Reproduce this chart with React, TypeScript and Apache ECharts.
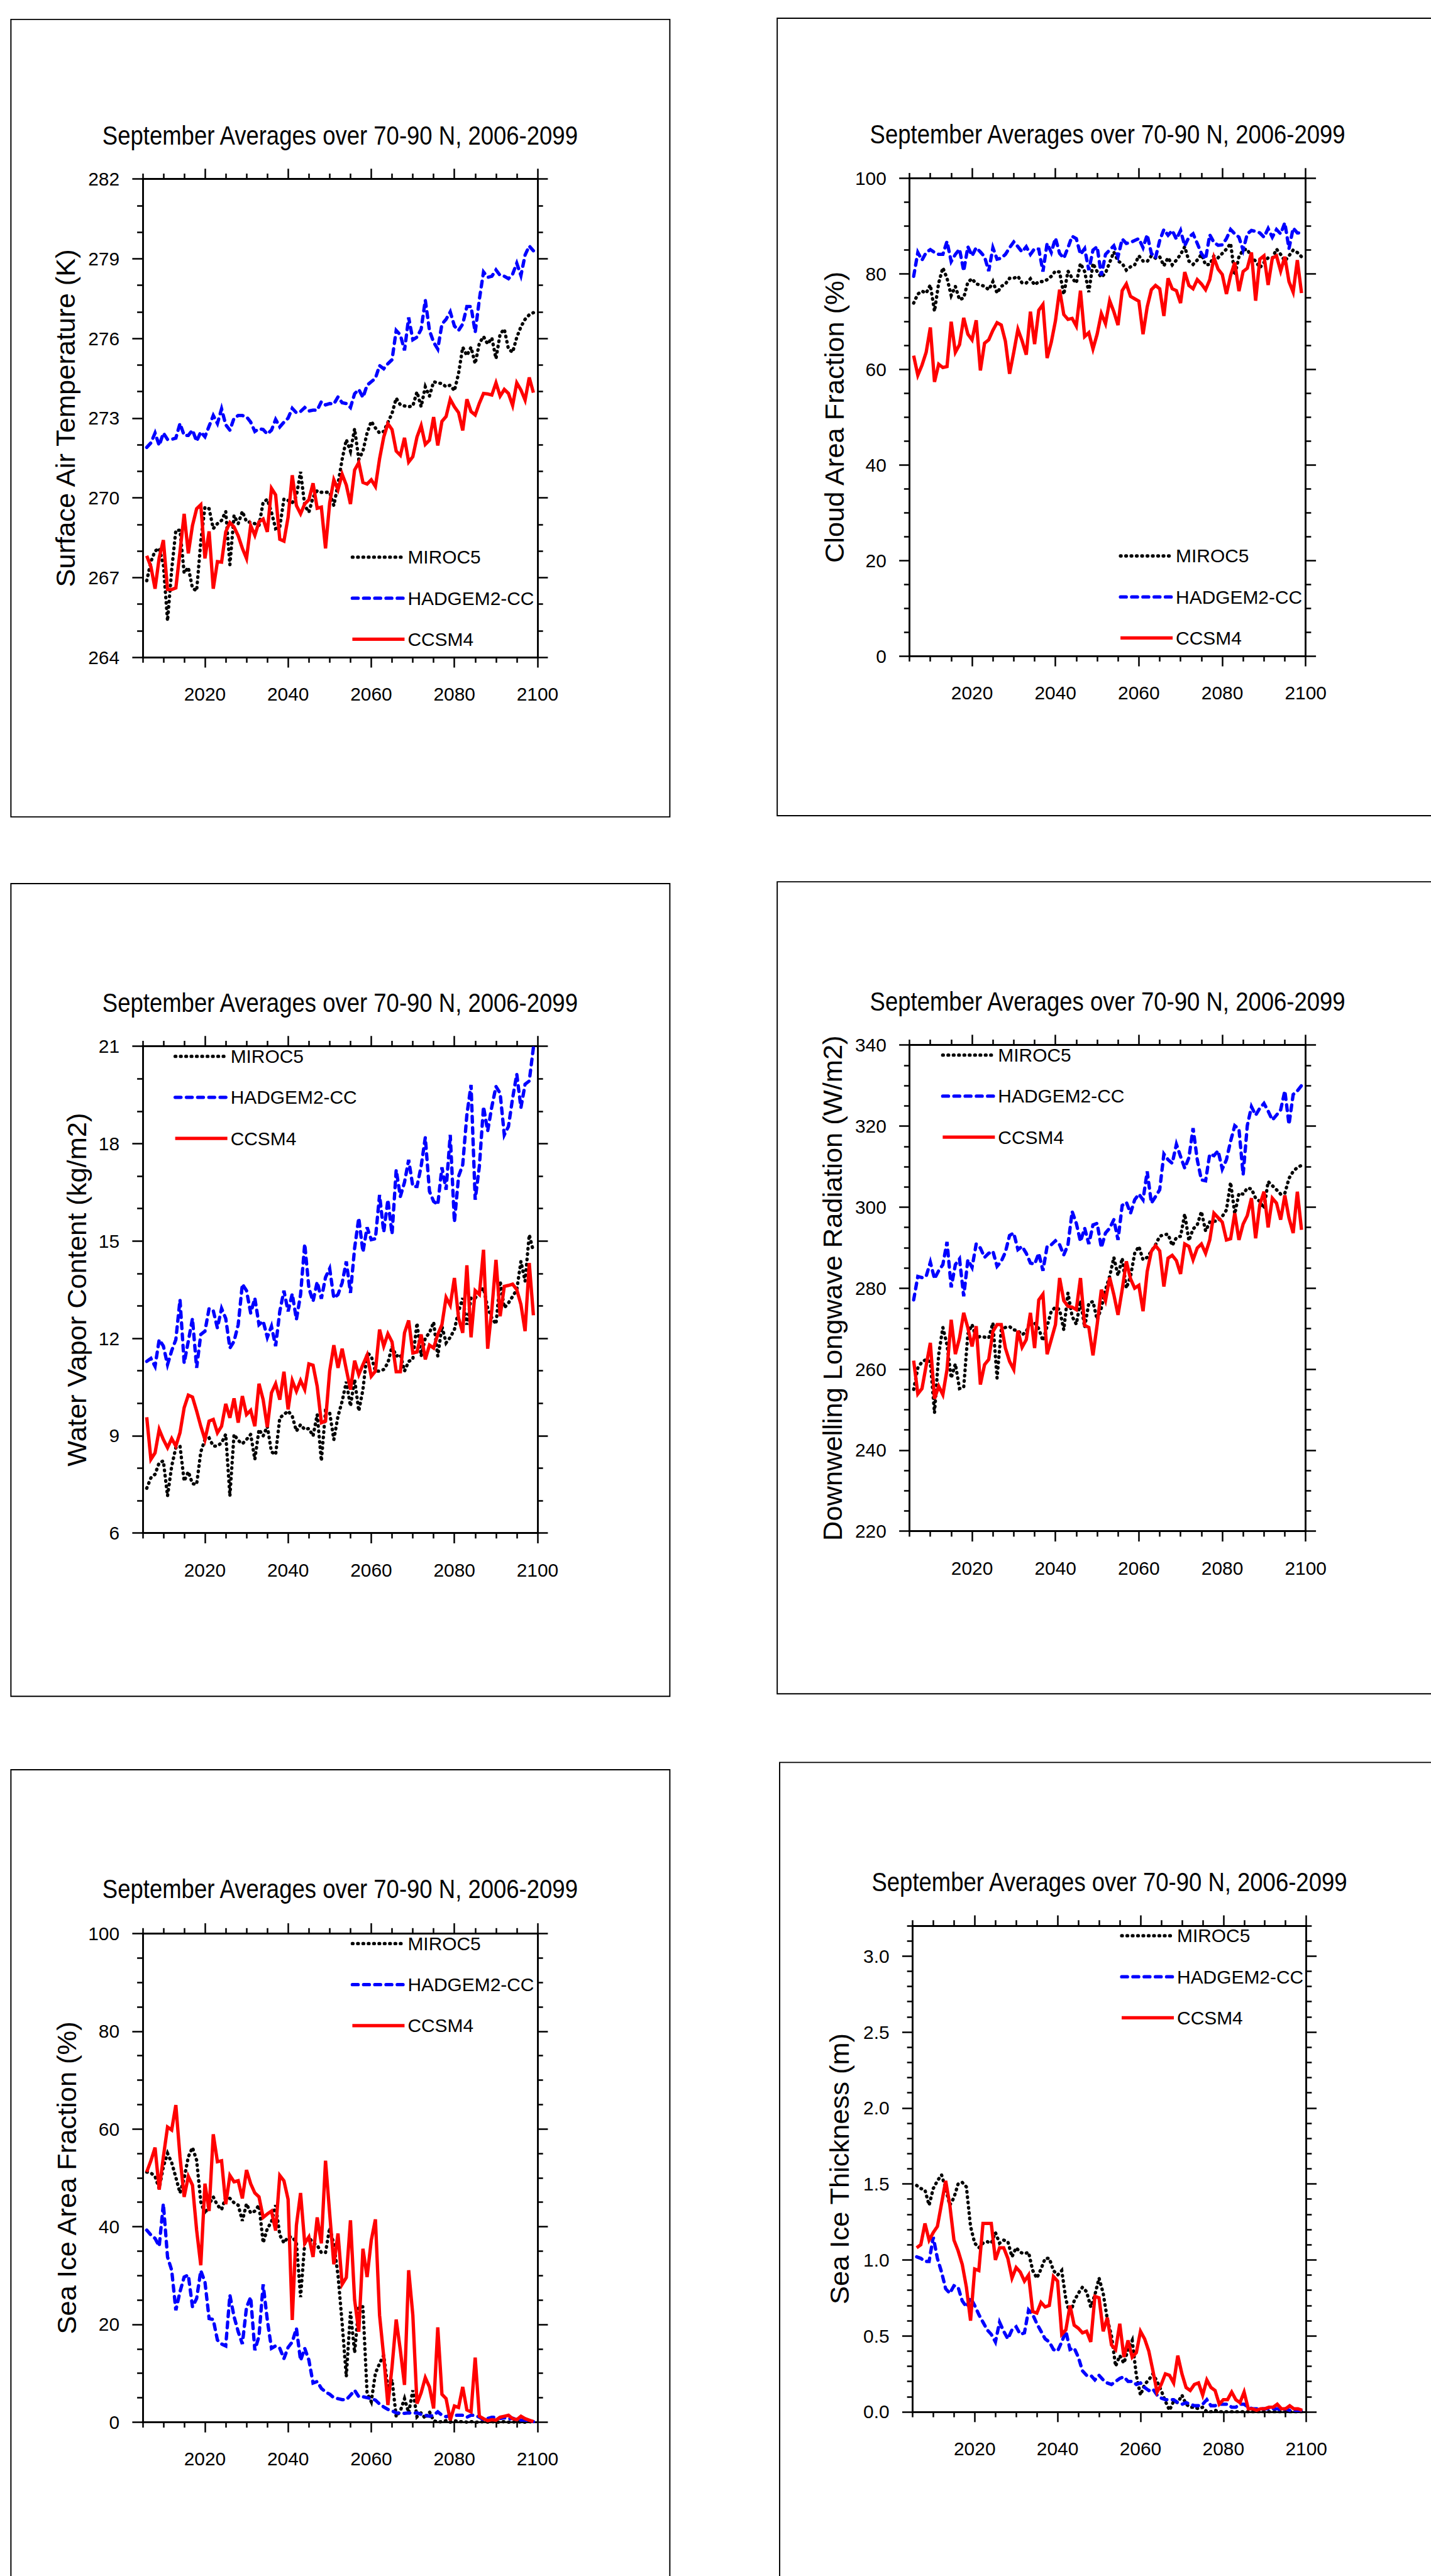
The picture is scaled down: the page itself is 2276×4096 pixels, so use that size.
import React, { useEffect, useRef } from "react";
import * as echarts from "echarts";

const S = 0.965;
const W = 2276;
const H = 4096;
const FONT = "'Liberation Sans', Arial, Helvetica, sans-serif";
const s = (v: number) => v * S;

// ---------- categories ----------
const years: number[] = [];
for (let y = 2006; y <= 2099; y++) years.push(y);

const modelNames = ["MIROC5", "HADGEM2-CC", "CCSM4"];
const modelColors = ["#000000", "#0000ff", "#ff0000"];

// ---------- tick values ----------
const xMajorTicks = [2020, 2040, 2060, 2080, 2100];
const xMinorTicks = [2005, 2010, 2015, 2025, 2030, 2035, 2045, 2050, 2055, 2065, 2070, 2075, 2085, 2090, 2095];
const tasMajor = [264, 267, 270, 273, 276, 279, 282];
const tasMinor = [265, 266, 268, 269, 271, 272, 274, 275, 277, 278, 280, 281];
const pctMajor = [0, 20, 40, 60, 80, 100];
const pctMinor = [5, 10, 15, 25, 30, 35, 45, 50, 55, 65, 70, 75, 85, 90, 95];
const prwMajor = [6, 9, 12, 15, 18, 21];
const prwMinor = [7, 8, 10, 11, 13, 14, 16, 17, 19, 20];
const rldMajor = [220, 240, 260, 280, 300, 320, 340];
const rldMinor = [225, 230, 235, 245, 250, 255, 265, 270, 275, 285, 290, 295, 305, 310, 315, 325, 330, 335];
const sitMajor = [0, 0.5, 1.0, 1.5, 2.0, 2.5, 3.0];
const sitMinor = [0.1, 0.2, 0.3, 0.4, 0.6, 0.7, 0.8, 0.9, 1.1, 1.2, 1.3, 1.4, 1.6, 1.7, 1.8, 1.9, 2.1, 2.2, 2.3, 2.4, 2.6, 2.7, 2.8, 2.9, 3.1, 3.2];

// ---------- Surface Air Temperature (K) ----------
const tasMIROC5 = [
  266.88, 267.6, 268.0, 268.1, 267.48, 265.37, 267.29, 268.78, 268.78, 267.17,
  267.38, 266.6, 266.5, 268.35, 269.65, 269.59, 268.84, 269.03, 269.15, 269.49,
  267.48, 269.34, 269.03, 269.49, 269.1, 269.08, 269.03, 268.96, 269.84, 269.94,
  269.46, 268.84, 268.9, 269.96, 269.9, 269.81, 270.08, 270.98, 269.71, 269.46,
  270.02, 270.27, 270.21, 270.21, 270.21, 269.71, 270.52, 271.45, 272.19, 271.76,
  272.6, 271.45, 271.76, 272.44, 272.88, 272.63, 272.44, 272.5, 272.84, 273.18,
  273.75, 273.5, 273.46, 273.43, 273.46, 273.99, 273.43, 274.18, 273.83, 274.37,
  274.33, 274.3, 274.18, 274.24, 274.03, 274.68, 275.67, 275.36, 275.67, 275.05,
  275.82, 276.07, 275.79, 276.02, 275.24, 276.17, 276.35, 275.6, 275.48, 276.04,
  276.44, 276.72, 276.89, 276.97,
];
const tasHADGEM = [
  271.9, 272.07, 272.44, 271.97, 272.44, 272.2, 272.2, 272.25, 272.8, 272.35,
  272.35, 272.55, 272.13, 272.48, 272.3, 272.7, 273.1, 272.8, 273.35, 272.75,
  272.55, 273.0, 273.1, 273.1, 273.05, 272.85, 272.5, 272.6, 272.57, 272.4,
  272.55, 272.95, 272.67, 272.85, 273.0, 273.37, 273.2, 273.25, 273.4, 273.27,
  273.3, 273.3, 273.62, 273.5, 273.55, 273.53, 273.8, 273.58, 273.55, 273.4,
  273.92, 274.08, 273.78, 274.24, 274.37, 274.5, 274.98, 274.86, 275.05, 275.2,
  276.3, 276.13, 275.55, 276.79, 275.95, 276.05, 276.35, 277.44, 276.3, 275.86,
  275.6, 276.54, 276.72, 277.0, 276.47, 276.3, 276.54, 277.2, 277.2, 276.23,
  277.47, 278.5, 278.3, 278.34, 278.58, 278.37, 278.34, 278.25, 278.42, 278.83,
  278.37, 279.14, 279.48, 279.3,
];
const tasCCSM4 = [
  267.82, 267.41, 266.58, 267.75, 268.41, 266.55, 266.55, 266.61, 267.97, 269.4,
  267.91, 268.96, 269.59, 269.74, 267.72, 268.74, 266.58, 267.6, 267.58, 268.72,
  269.07, 268.9, 268.57, 268.1, 267.72, 268.96, 268.59, 269.1, 269.2, 268.72,
  270.36, 270.11, 268.44, 268.37, 269.27, 270.85, 269.71, 269.4, 269.77, 269.93,
  270.55, 269.61, 269.65, 268.1, 269.81, 270.68, 270.31, 270.89, 270.48, 269.77,
  271.05, 271.33, 270.58, 270.52, 270.68, 270.43, 271.47, 272.29, 272.79, 272.57,
  271.76, 271.6, 272.26, 271.35, 271.55, 272.29, 272.72, 272.01, 272.17, 273.04,
  271.97, 272.88, 273.06, 273.71, 273.43, 273.21, 272.54, 273.71, 273.25, 273.12,
  273.56, 273.93, 273.91, 273.87, 274.33, 273.83, 274.08, 273.93, 273.48, 274.33,
  274.06, 273.68, 274.53, 273.96,
];

// ---------- Cloud Area Fraction (%) ----------
const cltMIROC5 = [
  73.9, 75.8, 76.4, 76.0, 77.7, 72.2, 78.1, 81.3, 79.1, 75.5,
  77.4, 74.6, 75.0, 78.3, 79.0, 77.9, 77.7, 77.4, 76.7, 78.4,
  76.0, 77.4, 77.9, 79.1, 79.1, 79.5, 78.1, 78.1, 79.0, 77.7,
  78.4, 78.4, 78.8, 79.5, 80.6, 80.4, 75.7, 80.6, 79.1, 78.1,
  82.2, 80.5, 76.2, 82.2, 80.5, 79.3, 80.2, 82.4, 84.6, 82.7,
  82.2, 80.8, 81.5, 81.9, 83.8, 82.7, 82.6, 83.8, 83.3, 83.6,
  81.7, 83.4, 81.9, 82.9, 84.1, 85.7, 82.7, 82.0, 82.9, 84.1,
  81.9, 82.0, 83.8, 83.4, 84.3, 85.2, 86.4, 79.7, 83.6, 85.0,
  85.2, 83.4, 82.7, 81.3, 82.4, 83.4, 83.3, 85.2, 84.1, 82.7,
  83.8, 85.0, 84.5, 83.6,
];
const cltHADGEM = [
  79.5, 84.5, 82.9, 84.5, 85.1, 84.5, 84.1, 84.1, 86.8, 82.6,
  84.1, 85.2, 80.6, 85.7, 83.8, 85.5, 84.6, 83.6, 80.6, 85.5,
  83.1, 83.3, 84.1, 85.5, 86.7, 85.7, 84.6, 85.7, 84.1, 85.3,
  85.2, 80.5, 86.4, 84.5, 87.5, 84.3, 83.3, 85.5, 87.9, 87.4,
  84.1, 85.3, 80.8, 85.0, 85.7, 79.7, 84.1, 85.0, 85.9, 83.6,
  87.3, 86.4, 86.6, 87.0, 87.4, 85.5, 88.2, 84.3, 83.4, 87.0,
  89.3, 88.1, 89.1, 87.3, 89.1, 85.9, 87.7, 88.4, 86.4, 84.3,
  83.1, 88.2, 86.6, 86.0, 86.1, 87.4, 89.3, 88.4, 87.7, 85.0,
  88.4, 89.1, 88.9, 88.6, 87.7, 89.5, 87.7, 89.3, 88.4, 90.7,
  85.3, 89.6, 88.6, 88.6,
];
const cltCCSM4 = [
  62.9, 58.8, 60.9, 63.6, 68.8, 57.4, 61.1, 60.4, 60.6, 70.0,
  63.6, 65.2, 70.8, 67.4, 66.2, 70.3, 59.8, 65.5, 66.2, 68.2,
  69.8, 69.3, 65.9, 59.1, 63.6, 68.4, 66.0, 63.1, 72.1, 65.3,
  72.4, 73.6, 62.4, 65.7, 70.2, 76.7, 71.5, 70.5, 70.7, 69.1,
  76.5, 66.9, 67.7, 64.3, 67.4, 71.7, 69.6, 74.4, 72.1, 69.3,
  76.5, 77.9, 75.3, 74.8, 74.3, 67.4, 73.1, 76.7, 77.6, 76.9,
  71.2, 79.1, 76.9, 76.5, 73.9, 80.4, 77.6, 76.9, 78.8, 77.9,
  76.7, 78.8, 83.4, 81.0, 79.9, 75.8, 79.7, 82.4, 76.4, 80.5,
  81.2, 84.5, 74.4, 83.1, 83.8, 77.7, 83.3, 83.8, 80.6, 83.6,
  78.4, 76.2, 82.9, 76.0,
];

// ---------- Water Vapor Content (kg/m2) ----------
const prwMIROC5 = [
  7.38, 7.7, 7.81, 8.17, 8.22, 7.14, 8.06, 8.63, 8.68, 7.6,
  7.89, 7.52, 7.5, 8.5, 8.88, 8.93, 8.68, 8.68, 8.78, 9.04,
  7.14, 9.04, 8.85, 8.75, 8.88, 9.04, 8.27, 9.19, 8.99, 9.29,
  8.5, 8.42, 9.55, 9.65, 9.76, 9.6, 9.14, 9.34, 9.19, 9.22,
  8.99, 9.65, 8.22, 9.76, 9.71, 8.88, 9.6, 10.06, 10.66, 9.91,
  10.73, 9.76, 10.42, 11.55, 11.45, 10.99, 10.99, 11.04, 11.24, 11.76,
  11.45, 11.5, 10.99, 11.29, 11.35, 12.47, 11.45, 12.01, 12.17, 12.5,
  11.45, 12.37, 11.86, 12.03, 12.27, 12.83, 13.24, 12.42, 13.24, 13.24,
  13.43, 13.55, 12.94, 12.63, 12.44, 13.76, 12.94, 13.09, 13.29, 13.5,
  14.37, 13.76, 15.19, 14.68,
];
const prwHADGEM = [
  11.29, 11.38, 11.14, 11.96, 11.76, 11.19, 11.62, 11.96, 13.19, 11.24,
  11.91, 12.61, 11.09, 12.12, 12.22, 12.92, 12.85, 12.32, 12.92, 12.61,
  11.7, 11.91, 12.42, 13.67, 13.47, 12.78, 13.24, 12.42, 12.53, 12.03,
  12.37, 11.76, 12.83, 13.47, 12.83, 13.37, 12.58, 13.35, 14.91, 13.55,
  13.14, 13.74, 13.22, 13.88, 14.15, 13.24, 13.35, 13.71, 14.37, 13.4,
  14.78, 15.71, 14.66, 15.42, 15.04, 15.07, 16.42, 15.27, 16.27, 15.21,
  17.19, 16.37, 16.81, 17.5, 16.68, 16.68, 17.3, 18.19, 16.53, 16.22,
  16.12, 17.27, 16.58, 18.27, 15.58, 16.99, 17.35, 18.89, 19.81, 16.27,
  17.3, 19.14, 18.39, 19.14, 19.76, 19.55, 18.27, 18.53, 19.4, 20.14,
  19.11, 19.83, 19.93, 20.96,
];
const prwCCSM4 = [
  9.57, 8.27, 8.47, 9.19, 8.88, 8.63, 8.91, 8.68, 9.09, 9.86,
  10.25, 10.19, 9.76, 9.29, 8.88, 9.45, 9.5, 9.09, 9.29, 9.98,
  9.55, 10.15, 9.4, 10.22, 9.65, 9.78, 9.29, 10.6, 10.11, 9.26,
  10.32, 10.6, 10.11, 10.97, 9.81, 10.7, 10.37, 10.7, 10.42, 11.21,
  11.17, 10.52, 9.4, 9.45, 10.99, 11.79, 11.09, 11.68, 11.04, 10.42,
  11.31, 10.88, 11.19, 11.48, 10.83, 10.99, 12.27, 11.76, 12.14, 11.89,
  10.97, 10.97, 12.17, 12.55, 11.55, 11.58, 12.12, 11.35, 11.79, 11.7,
  12.12, 12.42, 13.26, 13.02, 13.86, 12.63, 12.17, 14.25, 12.03, 13.47,
  13.35, 14.73, 11.68, 12.88, 14.42, 12.68, 13.6, 13.63, 13.67, 13.5,
  13.04, 12.22, 14.32, 12.71,
];

// ---------- Downwelling Longwave Radiation (W/m2) ----------
const rldMIROC5 = [
  255.0, 260.3, 261.8, 262.4, 261.8, 249.2, 263.6, 270.3, 266.0, 257.8,
  261.3, 255.2, 255.5, 268.7, 271.0, 267.7, 268.1, 267.9, 267.7, 271.4,
  257.8, 269.7, 270.3, 270.5, 269.7, 269.5, 268.5, 269.2, 272.0, 271.4,
  270.0, 267.0, 270.6, 274.3, 275.3, 274.7, 269.7, 278.8, 273.0, 271.1,
  276.9, 270.3, 276.3, 276.7, 272.2, 275.1, 279.6, 282.9, 287.6, 283.1,
  287.4, 280.0, 282.9, 288.6, 290.3, 287.0, 287.6, 289.1, 290.7, 292.8,
  293.2, 293.3, 290.5, 292.5, 292.8, 298.3, 291.7, 294.6, 295.6, 298.9,
  294.1, 296.3, 296.5, 296.6, 297.7, 299.3, 306.1, 298.3, 303.4, 303.2,
  304.7, 304.5, 302.2, 301.4, 299.7, 306.3, 305.3, 304.3, 303.2, 303.4,
  307.1, 308.8, 309.8, 310.3,
];
const rldHADGEM = [
  277.1, 282.9, 282.6, 282.9, 286.4, 282.3, 284.3, 285.8, 291.4, 280.2,
  285.8, 287.2, 278.0, 287.0, 285.1, 290.9, 289.9, 287.6, 288.6, 289.1,
  285.4, 286.6, 288.9, 293.0, 293.6, 289.5, 290.3, 288.6, 286.2, 285.9,
  288.6, 284.3, 290.3, 290.7, 291.7, 290.7, 288.2, 290.7, 298.9, 296.0,
  291.5, 294.8, 290.9, 295.6, 296.0, 290.0, 293.6, 294.8, 296.9, 291.9,
  300.4, 301.2, 298.5, 301.8, 303.2, 301.8, 308.8, 301.0, 302.6, 304.3,
  313.1, 311.7, 310.8, 315.5, 312.5, 309.6, 312.2, 319.5, 311.7, 306.7,
  306.5, 313.1, 312.7, 313.9, 309.4, 311.7, 316.3, 320.1, 319.3, 308.0,
  320.1, 324.8, 322.7, 324.4, 325.6, 323.7, 321.5, 322.7, 324.0, 328.7,
  320.4, 327.8, 328.7, 330.0,
];
const rldCCSM4 = [
  262.1, 253.9, 255.2, 260.9, 266.5, 252.7, 255.8, 253.7, 259.9, 272.2,
  263.7, 267.7, 273.9, 270.2, 265.6, 270.6, 256.2, 261.1, 262.4, 269.3,
  271.0, 271.0, 265.2, 261.9, 259.9, 269.5, 265.4, 267.3, 273.9, 265.2,
  277.1, 278.5, 263.7, 267.3, 271.0, 282.5, 276.9, 275.5, 275.3, 274.7,
  282.5, 270.8, 270.3, 263.4, 271.0, 279.6, 276.9, 282.6, 278.4, 273.4,
  279.6, 286.6, 282.3, 280.0, 280.7, 274.3, 284.1, 289.1, 290.5, 289.2,
  280.4, 287.4, 288.1, 286.8, 283.5, 290.9, 290.3, 287.0, 289.9, 290.9,
  288.6, 291.9, 298.5, 297.4, 296.3, 291.9, 292.2, 298.5, 291.9, 295.8,
  297.9, 302.2, 292.3, 300.6, 303.8, 295.0, 302.2, 301.0, 296.9, 302.9,
  297.3, 293.6, 303.8, 294.4,
];

// ---------- Sea Ice Area Fraction (%) ----------
const siaMIROC5 = [
  51.2, 51.0, 50.3, 47.8, 52.3, 55.0, 53.1, 50.1, 46.9, 49.9,
  54.3, 56.2, 53.6, 45.1, 42.6, 44.6, 46.1, 44.4, 43.5, 46.0,
  45.8, 44.9, 44.4, 41.2, 44.7, 42.8, 43.2, 44.4, 36.7, 39.6,
  41.0, 44.4, 38.3, 36.7, 37.9, 37.9, 36.7, 25.6, 36.6, 37.8,
  36.7, 36.2, 34.7, 34.7, 39.8, 36.4, 30.1, 20.2, 9.3, 22.6,
  14.2, 23.6, 23.6, 5.9, 4.2, 10.0, 12.0, 13.7, 6.9, 8.7,
  1.1, 2.3, 4.8, 1.9, 6.5, 1.1, 1.9, 0.75, 2.1, 0.3,
  0.0, 0.1, 0.3, 0.0, 0.3, 0.1, 0.1, 0.0, 0.1, 0.0,
  0.0, 0.1, 0.0, 0.1, 0.0, 0.0, 0.1, 0.0, 0.0, 0.1,
  0.0, 0.0, 0.1, 0.0,
];
const siaHADGEM = [
  39.3, 38.3, 37.6, 36.0, 44.7, 33.8, 31.1, 22.9, 26.7, 29.7,
  30.1, 23.6, 25.3, 31.0, 28.7, 21.2, 21.0, 16.8, 16.0, 15.6,
  26.0, 21.6, 18.5, 16.0, 23.5, 25.6, 14.7, 17.6, 28.2, 20.9,
  15.1, 15.6, 15.1, 13.0, 15.3, 16.4, 19.2, 12.6, 15.1, 12.7,
  8.0, 8.3, 6.9, 6.2, 5.7, 5.0, 4.8, 4.6, 4.6, 5.5,
  6.5, 5.2, 5.2, 5.0, 4.8, 4.5, 3.7, 3.1, 2.6, 2.3,
  1.9, 1.8, 1.8, 1.9, 1.8, 1.9, 1.6, 1.4, 1.2, 1.4,
  2.1, 1.4, 1.1, 1.4, 1.4, 1.4, 1.4, 1.0, 1.4, 1.4,
  1.0, 0.5, 0.75, 1.0, 1.0, 0.75, 0.9, 0.6, 0.8, 0.5,
  0.4, 0.4, 0.3, 0.1,
];
const siaCCSM4 = [
  51.2, 53.5, 56.2, 47.6, 54.3, 60.4, 59.8, 64.9, 54.3, 46.1,
  50.3, 48.5, 39.3, 32.1, 48.8, 43.2, 58.9, 53.3, 53.5, 44.6,
  50.5, 49.2, 49.4, 45.8, 51.6, 48.8, 46.9, 46.1, 41.9, 42.6,
  43.2, 39.2, 50.5, 49.4, 45.6, 20.9, 40.3, 46.9, 36.6, 37.9,
  33.8, 41.9, 36.6, 53.5, 42.7, 32.3, 38.6, 28.2, 29.6, 41.3,
  25.0, 18.5, 35.5, 29.7, 37.2, 41.5, 21.9, 13.4, 3.5, 11.3,
  21.0, 14.7, 7.6, 31.1, 21.9, 3.8, 6.0, 9.1, 7.2, 2.8,
  19.4, 5.7, 4.8, 0.4, 3.3, 3.0, 7.2, 2.5, 2.1, 13.2,
  1.2, 0.7, 0.3, 0.5, 0.4, 1.0, 1.2, 1.4, 0.7, 0.5,
  1.2, 0.7, 0.4, 0.1,
];

// ---------- Sea Ice Thickness (m) ----------
const sitMIROC5 = [
  1.49, 1.47, 1.46, 1.36, 1.47, 1.52, 1.56, 1.47, 1.36, 1.41,
  1.5, 1.51, 1.48, 1.22, 1.11, 1.08, 1.11, 1.12, 1.11, 1.18,
  1.11, 1.13, 1.12, 1.02, 1.08, 1.05, 1.04, 1.05, 0.93, 0.88,
  0.94, 1.01, 1.01, 0.93, 0.9, 0.93, 0.74, 0.64, 0.73, 0.78,
  0.82, 0.79, 0.69, 0.77, 0.88, 0.78, 0.61, 0.5, 0.3, 0.37,
  0.32, 0.41, 0.47, 0.24, 0.11, 0.18, 0.21, 0.25, 0.2, 0.14,
  0.07, 0.01, 0.07, 0.06, 0.11, 0.05, 0.03, 0.03, 0.02, 0.03,
  0.0, 0.0, 0.01, 0.0, 0.0, 0.0, 0.0, 0.0, 0.0, 0.0,
  0.0, 0.0, 0.0, 0.0, 0.0, 0.0, 0.0, 0.0, 0.0, 0.0,
  0.0, 0.0, 0.0, 0.0,
];
const sitHADGEM = [
  1.02, 1.01, 0.99, 0.99, 1.15, 1.01, 0.92, 0.81, 0.78, 0.83,
  0.82, 0.73, 0.69, 0.75, 0.7, 0.64, 0.59, 0.54, 0.51, 0.46,
  0.59, 0.53, 0.48, 0.54, 0.56, 0.51, 0.52, 0.67, 0.64, 0.58,
  0.53, 0.48, 0.46, 0.41, 0.4, 0.46, 0.53, 0.41, 0.42, 0.36,
  0.27, 0.24, 0.24, 0.21, 0.24, 0.21, 0.19, 0.18, 0.2, 0.22,
  0.23, 0.2, 0.2, 0.18, 0.19, 0.16, 0.14, 0.15, 0.11, 0.09,
  0.08, 0.08, 0.08, 0.06, 0.05, 0.06, 0.05, 0.04, 0.04, 0.05,
  0.08, 0.04, 0.04, 0.05, 0.05, 0.05, 0.03, 0.03, 0.05, 0.05,
  0.03, 0.02, 0.02, 0.02, 0.02, 0.02, 0.02, 0.02, 0.01, 0.02,
  0.01, 0.01, 0.01, 0.01,
];
const sitCCSM4 = [
  1.08, 1.1, 1.24, 1.13, 1.18, 1.22, 1.37, 1.52, 1.36, 1.13,
  1.06, 0.97, 0.82, 0.6, 0.94, 0.93, 1.24, 1.24, 1.24, 1.0,
  1.08, 1.08, 1.01, 0.88, 0.95, 0.92, 0.86, 0.9, 0.66, 0.65,
  0.72, 0.69, 0.7, 0.89, 0.86, 0.51, 0.54, 0.7, 0.57, 0.55,
  0.52, 0.53, 0.46, 0.76, 0.75, 0.53, 0.62, 0.44, 0.41, 0.58,
  0.36, 0.47, 0.36, 0.39, 0.53, 0.48, 0.4, 0.27, 0.13, 0.18,
  0.25, 0.24, 0.19, 0.37, 0.25, 0.16, 0.14, 0.18, 0.19, 0.11,
  0.21, 0.16, 0.14, 0.05, 0.08, 0.08, 0.13, 0.08, 0.06, 0.13,
  0.02, 0.02, 0.01, 0.02, 0.02, 0.03, 0.03, 0.05, 0.02, 0.02,
  0.04, 0.02, 0.02, 0.01,
];

const titleText = "September Averages over 70-90 N, 2006-2099";

// Layout (reference pixel units, scaled by S when used)
type Panel = {
  yName: string;
  data: number[][];
  yMin: number;
  yMax: number;
  yMajor: number[];
  yMinor: number[];
  dec: number;
  grid: number[]; // l, t, r, b
  frame: number[]; // l, t, r, b
  titleXY: number[];
  nameGap: number;
  legendXY: number[];
};

const panels: Panel[] = [
  {
    yName: "Surface Air Temperature (K)", data: [tasMIROC5, tasHADGEM, tasCCSM4],
    yMin: 264, yMax: 282, yMajor: tasMajor, yMinor: tasMinor, dec: 0,
    grid: [235, 295, 886, 1083], frame: [18, 32, 1104, 1346], titleXY: [560.5, 223],
    nameGap: 105, legendXY: [578, 920.5],
  },
  {
    yName: "Cloud Area Fraction (%)", data: [cltMIROC5, cltHADGEM, cltCCSM4],
    yMin: 0, yMax: 100, yMajor: pctMajor, yMinor: pctMinor, dec: 0,
    grid: [1499, 294, 2152, 1081], frame: [1281, 30, 2420, 1344], titleXY: [1825.5, 221],
    nameGap: 101.5, legendXY: [1844, 918.5],
  },
  {
    yName: "Water Vapor Content (kg/m2)", data: [prwMIROC5, prwHADGEM, prwCCSM4],
    yMin: 6, yMax: 21, yMajor: prwMajor, yMinor: prwMinor, dec: 0,
    grid: [235, 1724, 886, 2526], frame: [18, 1456, 1104, 2795], titleXY: [560.5, 1652],
    nameGap: 86, legendXY: [286, 1743],
  },
  {
    yName: "Downwelling Longwave Radiation (W/m2)", data: [rldMIROC5, rldHADGEM, rldCCSM4],
    yMin: 220, yMax: 340, yMajor: rldMajor, yMinor: rldMinor, dec: 0,
    grid: [1499, 1722, 2152, 2523], frame: [1281, 1453, 2420, 2791], titleXY: [1825.5, 1650],
    nameGap: 104.5, legendXY: [1551, 1741],
  },
  {
    yName: "Sea Ice Area Fraction (%)", data: [siaMIROC5, siaHADGEM, siaCCSM4],
    yMin: 0, yMax: 100, yMajor: pctMajor, yMinor: pctMinor, dec: 0,
    grid: [235, 3186, 886, 3991], frame: [18, 2916, 1104, 4400], titleXY: [560.5, 3112],
    nameGap: 102.5, legendXY: [578, 3205],
  },
  {
    yName: "Sea Ice Thickness (m)", data: [sitMIROC5, sitHADGEM, sitCCSM4],
    yMin: 0, yMax: 3.2, yMajor: sitMajor, yMinor: sitMinor, dec: 1,
    grid: [1504, 3173, 2153, 3974], frame: [1285, 2904, 2420, 4400], titleXY: [1828.5, 3101],
    nameGap: 98.5, legendXY: [1846, 3192],
  },
];

function buildOption() {
  const grids: any[] = [];
  const xAxes: any[] = [];
  const yAxes: any[] = [];
  const series: any[] = [];
  const legends: any[] = [];
  const elements: any[] = [];

  const axisLW = s(3);
  const tickLW = s(2.6);
  const majorLen = s(17);
  const minorLen = s(9);
  const lineWidths = [s(5.5), s(5.5), s(5.5)];
  const dashes: any[] = [[s(1), s(7.8)], [s(9.5), s(9)], "solid"];
  const caps = ["round", "round", "butt"];

  panels.forEach((p, i) => {
    const [l, t, r, b] = p.grid;
    grids.push({ left: s(l), top: s(t), width: s(r - l), height: s(b - t), containLabel: false });

    const lineStyle = { color: "#000", width: axisLW };
    const tickStyle = { color: "#000", width: tickLW };
    const labelStyle = { color: "#000", fontSize: s(31), fontFamily: FONT };

    const xBase = { type: "value", gridIndex: i, min: 2005, max: 2100, splitLine: { show: false } };
    xAxes.push({
      ...xBase, position: "bottom",
      axisLine: { show: true, onZero: false, lineStyle },
      axisTick: { show: true, inside: false, length: majorLen, customValues: xMajorTicks, lineStyle: tickStyle },
      axisLabel: { show: true, customValues: xMajorTicks, margin: s(45), formatter: (v: number) => String(v), ...labelStyle },
    });
    xAxes.push({
      ...xBase, position: "bottom",
      axisLine: { show: false, onZero: false },
      axisTick: { show: true, inside: false, length: minorLen, customValues: xMinorTicks, lineStyle: tickStyle },
      axisLabel: { show: false },
    });
    xAxes.push({
      ...xBase, position: "top",
      axisLine: { show: true, onZero: false, lineStyle },
      axisTick: { show: true, inside: false, length: majorLen, customValues: xMajorTicks, lineStyle: tickStyle },
      axisLabel: { show: false },
    });
    xAxes.push({
      ...xBase, position: "top",
      axisLine: { show: false, onZero: false },
      axisTick: { show: true, inside: false, length: minorLen, customValues: xMinorTicks, lineStyle: tickStyle },
      axisLabel: { show: false },
    });

    const yBase = { type: "value", gridIndex: i, min: p.yMin, max: p.yMax, splitLine: { show: false } };
    yAxes.push({
      ...yBase, position: "left",
      name: p.yName, nameLocation: "middle", nameGap: s(p.nameGap),
      nameTextStyle: { color: "#000", fontSize: s(45), fontFamily: FONT },
      axisLine: { show: true, onZero: false, lineStyle },
      axisTick: { show: true, inside: false, length: majorLen, customValues: p.yMajor, lineStyle: tickStyle },
      axisLabel: {
        show: true, customValues: p.yMajor, margin: s(38),
        formatter: (v: number) => (p.dec > 0 ? v.toFixed(p.dec) : String(v)), ...labelStyle,
      },
    });
    yAxes.push({
      ...yBase, position: "left",
      axisLine: { show: false, onZero: false },
      axisTick: { show: true, inside: false, length: minorLen, customValues: p.yMinor, lineStyle: tickStyle },
      axisLabel: { show: false },
    });
    yAxes.push({
      ...yBase, position: "right",
      axisLine: { show: true, onZero: false, lineStyle },
      axisTick: { show: true, inside: false, length: majorLen, customValues: p.yMajor, lineStyle: tickStyle },
      axisLabel: { show: false },
    });
    yAxes.push({
      ...yBase, position: "right",
      axisLine: { show: false, onZero: false },
      axisTick: { show: true, inside: false, length: minorLen, customValues: p.yMinor, lineStyle: tickStyle },
      axisLabel: { show: false },
    });

    p.data.forEach((vals, k) => {
      series.push({
        type: "line",
        name: modelNames[k],
        xAxisIndex: 4 * i,
        yAxisIndex: 4 * i,
        data: years.map((yr, j) => [yr, vals[j]]),
        symbol: "none",
        showSymbol: false,
        smooth: false,
        silent: true,
        clip: true,
        z: 2 + k,
        lineStyle: { color: modelColors[k], width: lineWidths[k], type: dashes[k], cap: caps[k], join: "miter" },
        itemStyle: { color: modelColors[k] },
        emphasis: { disabled: true },
      });
    });

    legends.push({
      data: modelNames,
      orient: "vertical",
      left: s(p.legendXY[0]),
      top: s(p.legendXY[1] - 18),
      padding: 0,
      itemWidth: s(86),
      itemHeight: s(36),
      itemGap: s(36.5),
      selectedMode: false,
      itemStyle: { opacity: 0 },
      lineStyle: { width: s(5.5) },
      textStyle: { color: "#000", fontSize: s(31), fontFamily: FONT },
    });

    const [fl, ft, fr, fb] = p.frame;
    elements.push({
      type: "rect",
      silent: true,
      z: 0,
      shape: { x: s(fl), y: s(ft), width: s(fr - fl), height: s(fb - ft) },
      style: { fill: "none", stroke: "#000", lineWidth: s(2) },
    });
    elements.push({
      type: "text",
      silent: true,
      x: s(p.titleXY[0]),
      y: s(p.titleXY[1]),
      scaleX: 0.86,
      scaleY: 1,
      style: {
        text: titleText,
        fontSize: s(44),
        fontFamily: FONT,
        fill: "#000",
        align: "center",
        verticalAlign: "middle",
        textAlign: "center",
        textVerticalAlign: "middle",
      },
    });
  });

  return {
    animation: false,
    backgroundColor: "#ffffff",
    grid: grids,
    xAxis: xAxes,
    yAxis: yAxes,
    legend: legends,
    series,
    graphic: { elements },
  };
}

export default function App() {
  const ref = useRef<HTMLDivElement>(null);
  useEffect(() => {
    if (!ref.current) return;
    const chart = echarts.init(ref.current, null, { renderer: "svg", width: W, height: H });
    chart.setOption(buildOption() as any);
    return () => chart.dispose();
  }, []);
  return (
    <div
      ref={ref}
      style={{ position: "absolute", left: 0, top: 0, width: W, height: H, background: "#fff", overflow: "hidden" }}
    />
  );
}
